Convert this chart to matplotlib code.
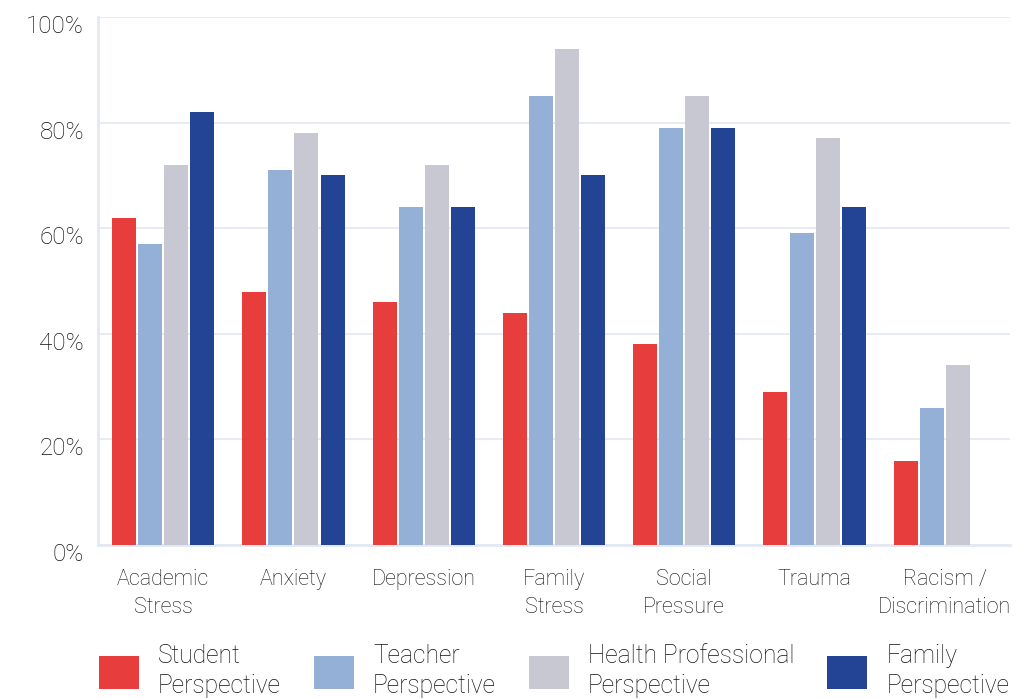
import numpy as np
import matplotlib
matplotlib.use("Agg")
import matplotlib.pyplot as plt
from matplotlib.patches import Patch
from matplotlib.transforms import ScaledTranslation

plt.rcParams['font.family'] = ['Roboto', 'DejaVu Sans']

# data
categories = ["Academic\nStress", "Anxiety", "Depression", "Family\nStress",
              "Social\nPressure", "Trauma", "Racism /\nDiscrimination"]
student = [62, 48, 46, 44, 38, 29, 16]
teacher = [57, 71, 64, 85, 79, 59, 26]
health = [72, 78, 72, 94, 85, 77, 34]
family = [82, 70, 64, 70, 79, 64, np.nan]
series_names = ["Student\nPerspective", "Teacher\nPerspective",
                "Health Professional\nPerspective", "Family\nPerspective"]
yticks = [0, 20, 40, 60, 80, 100]

colors = ["#E83D3D", "#94B0D6", "#C8C8D3", "#234394"]
text_col = "#111111"
line_col = "#E3E8F2"

fig = plt.figure(figsize=(10.32, 6.99), dpi=100)
ax = fig.add_axes([98 / 1032, 1 - 545 / 699, 912 / 1032, 528 / 699])

x = np.arange(len(categories))
offsets = [-0.3, -0.1, 0.1, 0.3]
for vals, off, c in zip([student, teacher, health, family], offsets, colors):
    ax.bar(x + off, vals, width=0.184, color=c, zorder=3)

ax.set_xlim(-0.5, len(categories) - 0.5)
ax.set_ylim(0, 100)
ax.set_yticks(yticks)
ax.set_yticklabels([f"{v}%" for v in yticks])
ax.set_xticks(x)
ax.set_xticklabels(categories)
ax.tick_params(axis='both', length=0, labelcolor=text_col)
ax.tick_params(axis='y', pad=10, labelsize=17.5)
ax.tick_params(axis='x', pad=17, labelsize=15.5)
for lab in ax.get_yticklabels() + ax.get_xticklabels():
    lab.set_fontweight('light')
for lab in ax.get_xticklabels():
    lab.set_linespacing(1.45)
# y labels sit a bit below their gridline in the reference
off = ScaledTranslation(0, -7 / 100, fig.dpi_scale_trans)
for lab in ax.get_yticklabels():
    lab.set_transform(lab.get_transform() + off)

ax.grid(axis='y', color=line_col, linewidth=1.2, zorder=0)
for s in ['top', 'right']:
    ax.spines[s].set_visible(False)
for s in ['left', 'bottom']:
    ax.spines[s].set_color(line_col)
    ax.spines[s].set_linewidth(2)

handles = [Patch(facecolor=c, edgecolor='none') for c in colors]
leg = fig.legend(handles, series_names, loc='center left',
                 bbox_to_anchor=(99 / 1032, 1 - 671 / 699), ncol=4,
                 frameon=False, prop={'size': 17.7, 'weight': 'light'},
                 handlelength=1.63, handleheight=1.63, handletextpad=0.77,
                 columnspacing=1.34, borderaxespad=0, borderpad=0)
for t in leg.get_texts():
    t.set_color(text_col)
    t.set_linespacing(1.3)

fig.savefig("out.png", dpi=100)
